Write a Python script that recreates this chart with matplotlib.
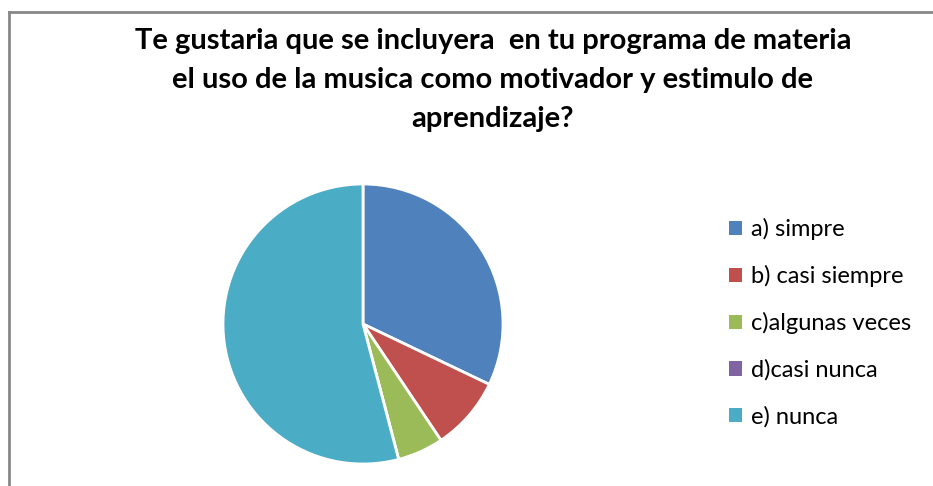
import matplotlib.pyplot as plt
from matplotlib.lines import Line2D
from matplotlib.patches import Patch

# survey answers (percent of students)
labels = ['a) simpre', 'b) casi siempre', 'c)algunas veces', 'd)casi nunca', 'e) nunca']
values = [32.1, 8.5, 5.3, 0.0, 54.1]
colors = ['#4F81BD', '#C0504D', '#9BBB59', '#8064A2', '#4BACC6']

title = ('Te gustaria que se incluyera  en tu programa de materia\n'
         'el uso de la musica como motivador y estimulo de\n'
         'aprendizaje?')

plt.rcParams['font.family'] = ['Lato', 'DejaVu Sans']

fig = plt.figure(figsize=(9.33, 4.86), dpi=100)

# pie area: centre ~ (363, 324) px, radius ~140 px
ax = fig.add_axes([(363 - 140) / 933, 1 - (324 + 140) / 486, 280 / 933, 280 / 486])
ax.pie(values, colors=colors, startangle=90, counterclock=False,
       wedgeprops={'edgecolor': 'white', 'linewidth': 2})
ax.set_xlim(-1, 1)
ax.set_ylim(-1, 1)
ax.set_aspect('equal')

fig.text(493 / 933, 1 - 80 / 486, title, ha='center', va='center',
         fontsize=21, fontweight='bold', linespacing=1.6, color='#000000')

handles = [Patch(facecolor=c, edgecolor='none') for c in colors]
fig.legend(handles, labels, loc='upper left', bbox_to_anchor=(729 / 933, 1 - 218 / 486),
           frameon=False, fontsize=17, handlelength=0.55, handleheight=0.55,
           handletextpad=0.4, labelspacing=1.06, borderaxespad=0, borderpad=0)

# chart frame: only top and left edges are visible
fig.add_artist(Line2D([9 / 933, 1], [1 - 12 / 486, 1 - 12 / 486], color='#888888', linewidth=2))
fig.add_artist(Line2D([9 / 933, 9 / 933], [0, 1 - 12 / 486], color='#888888', linewidth=2))

fig.savefig('out.png', dpi=100)
